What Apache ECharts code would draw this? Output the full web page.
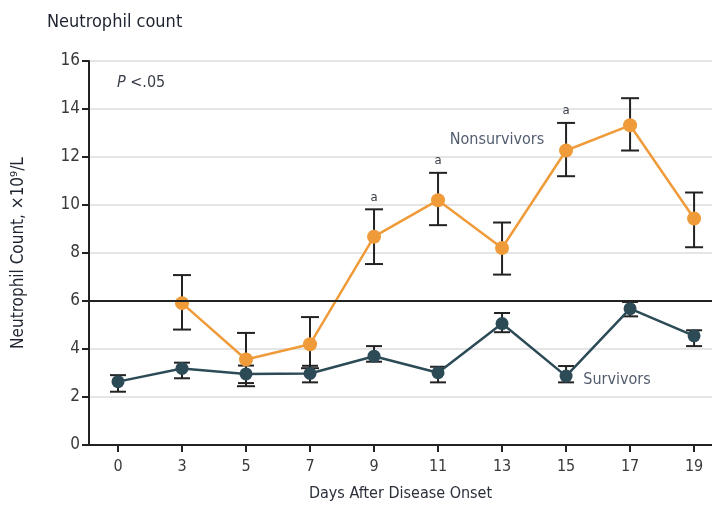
<!DOCTYPE html>
<html>
<head>
<meta charset="utf-8">
<script src="https://cdn.jsdelivr.net/npm/echarts@6/dist/echarts.min.js"></script>
<style>html,body{margin:0;padding:0;background:#fff}#c{width:712px;height:507px}</style>
</head>
<body>
<div id="c"></div>
<script>
const categories = ['0', '3', '5', '7', '9', '11', '13', '15', '17', '19'];
const nonsurvivors = [null, 5.91, 3.56, 4.2, 8.68, 10.2, 8.21, 12.27, 13.32, 9.44];
const nonsurvivorsLow = [null, 4.81, 2.45, 3.2, 7.54, 9.16, 7.1, 11.2, 12.27, 8.24];
const nonsurvivorsHigh = [null, 7.08, 4.67, 5.33, 9.82, 11.34, 9.27, 13.42, 14.45, 10.52];
const significance = ['', '', '', '', 'a', 'a', '', 'a', '', ''];
const survivors = [2.64, 3.19, 2.96, 2.98, 3.7, 3.01, 5.06, 2.87, 5.68, 4.55];
const survivorsLow = [2.22, 2.78, 2.58, 2.61, 3.47, 2.61, 4.7, 2.61, 5.36, 4.12];
const survivorsHigh = [2.91, 3.43, 3.31, 3.3, 4.12, 3.26, 5.5, 3.29, 5.96, 4.78];
const yTicks = [0, 2, 4, 6, 8, 10, 12, 14, 16];
const threshold = 6;

const FONT = "'DejaVu Sans Condensed', 'Liberation Sans Narrow', sans-serif";
const ORANGE = '#F09B3A';
const TEAL = '#2C4B57';
const LABEL = '#26324a';

const chart = echarts.init(document.getElementById('c'), null, {renderer: 'canvas'});

function pts(vals) { return vals.map((v, i) => v == null ? null : [i, v]); }
function errData(lo, hi) {
  const out = [];
  lo.forEach((l, i) => { if (l != null) out.push([i, l, hi[i]]); });
  return out;
}
function errRender(cap, withSig) {
  return function (params, api) {
    const x = api.value(0), lo = api.value(1), hi = api.value(2);
    const pLo = api.coord([x, lo]), pHi = api.coord([x, hi]);
    const st = {stroke: '#222', lineWidth: 2};
    const ch = [
      {type: 'line', shape: {x1: pLo[0], y1: pLo[1], x2: pHi[0], y2: pHi[1]}, style: st},
      {type: 'line', shape: {x1: pLo[0] - cap / 2, y1: pLo[1], x2: pLo[0] + cap / 2, y2: pLo[1]}, style: st},
      {type: 'line', shape: {x1: pHi[0] - cap / 2, y1: pHi[1], x2: pHi[0] + cap / 2, y2: pHi[1]}, style: st}
    ];
    const s = withSig ? significance[x] : '';
    if (s) {
      ch.push({type: 'text', style: {text: s, x: pHi[0], y: pHi[1] - 12, align: 'center', verticalAlign: 'middle',
        font: '13px ' + FONT, fill: '#3a3f4a'}});
    }
    return {type: 'group', children: ch};
  };
}

const option = {
  animation: false,
  backgroundColor: '#fff',
  title: {
    text: 'Neutrophil count', left: 42, top: 8,
    textStyle: {fontFamily: FONT, fontSize: 18, fontWeight: 'normal', color: '#1e2430'}
  },
  grid: {left: 89, right: 0, top: 61, bottom: 60, containLabel: false},
  xAxis: {
    type: 'value', min: -0.453, max: 9.28,
    name: 'Days After Disease Onset', nameLocation: 'middle', nameGap: 41,
    nameTextStyle: {fontFamily: FONT, fontSize: 16, color: '#2a2f3a'},
    axisLine: {show: true, onZero: false, lineStyle: {color: '#222', width: 2}},
    axisTick: {show: true, length: 7, lineStyle: {color: '#222', width: 2}, customValues: categories.map((c, i) => i)},
    axisLabel: {fontFamily: FONT, fontSize: 16, color: '#3a3a3a', margin: 14,
      customValues: categories.map((c, i) => i), formatter: v => categories[Math.round(v)]},
    splitLine: {show: false}
  },
  yAxis: {
    type: 'value', min: 0, max: 16, interval: 2,
    name: 'Neutrophil Count, ×10⁹/L', nameLocation: 'middle', nameGap: 62,
    nameTextStyle: {fontFamily: FONT, fontSize: 17, color: '#1e2430'},
    axisLine: {show: true, onZero: false, lineStyle: {color: '#222', width: 2}},
    axisTick: {show: true, length: 7, lineStyle: {color: '#222', width: 2}},
    axisLabel: {fontFamily: FONT, fontSize: 17, color: '#3a3a3a', margin: 9,
      formatter: v => yTicks.includes(v) ? String(v) : ''},
    splitLine: {show: true, lineStyle: {color: '#dcdcdc', width: 1.5}}
  },
  graphic: [{
    type: 'text', left: 117, top: 75,
    style: {
      text: '{i|P} <.05',
      rich: {i: {fontStyle: 'italic', fontFamily: FONT, fontSize: 16, fill: '#3a3f4a'}},
      font: '16px ' + FONT, fill: '#3a3f4a'
    }
  }],
  series: [
    {
      type: 'line', name: 'threshold', data: [], silent: true,
      markLine: {symbol: 'none', silent: true, label: {show: false},
        lineStyle: {color: '#222', width: 2, type: 'solid'}, data: [{yAxis: threshold}]}
    },
    {
      type: 'custom', name: 'survErr', renderItem: errRender(16, false),
      data: errData(survivorsLow, survivorsHigh), encode: {x: 0, y: [1, 2]}, z: 2
    },
    {
      type: 'custom', name: 'nonErr', renderItem: errRender(18, true),
      data: errData(nonsurvivorsLow, nonsurvivorsHigh), encode: {x: 0, y: [1, 2]}, z: 2
    },
    {
      type: 'line', name: 'Survivors', data: pts(survivors), symbol: 'circle', symbolSize: 13,
      itemStyle: {color: TEAL}, lineStyle: {color: TEAL, width: 2.5}, z: 3
    },
    {
      type: 'line', name: 'Nonsurvivors', data: pts(nonsurvivors), symbol: 'circle', symbolSize: 14,
      itemStyle: {color: ORANGE}, lineStyle: {color: ORANGE, width: 2.5}, z: 4
    },
    {
      type: 'scatter', name: 'labels', silent: true, symbolSize: 0, z: 5,
      data: [
        {value: [5.92, 12.73], label: {formatter: 'Nonsurvivors', position: 'inside'}},
        {value: [7.27, 2.71], label: {formatter: 'Survivors', position: 'right', distance: 0}}
      ],
      label: {show: true, fontFamily: FONT, fontSize: 16, color: LABEL}
    }
  ]
};
chart.setOption(option);
</script>
</body>
</html>
